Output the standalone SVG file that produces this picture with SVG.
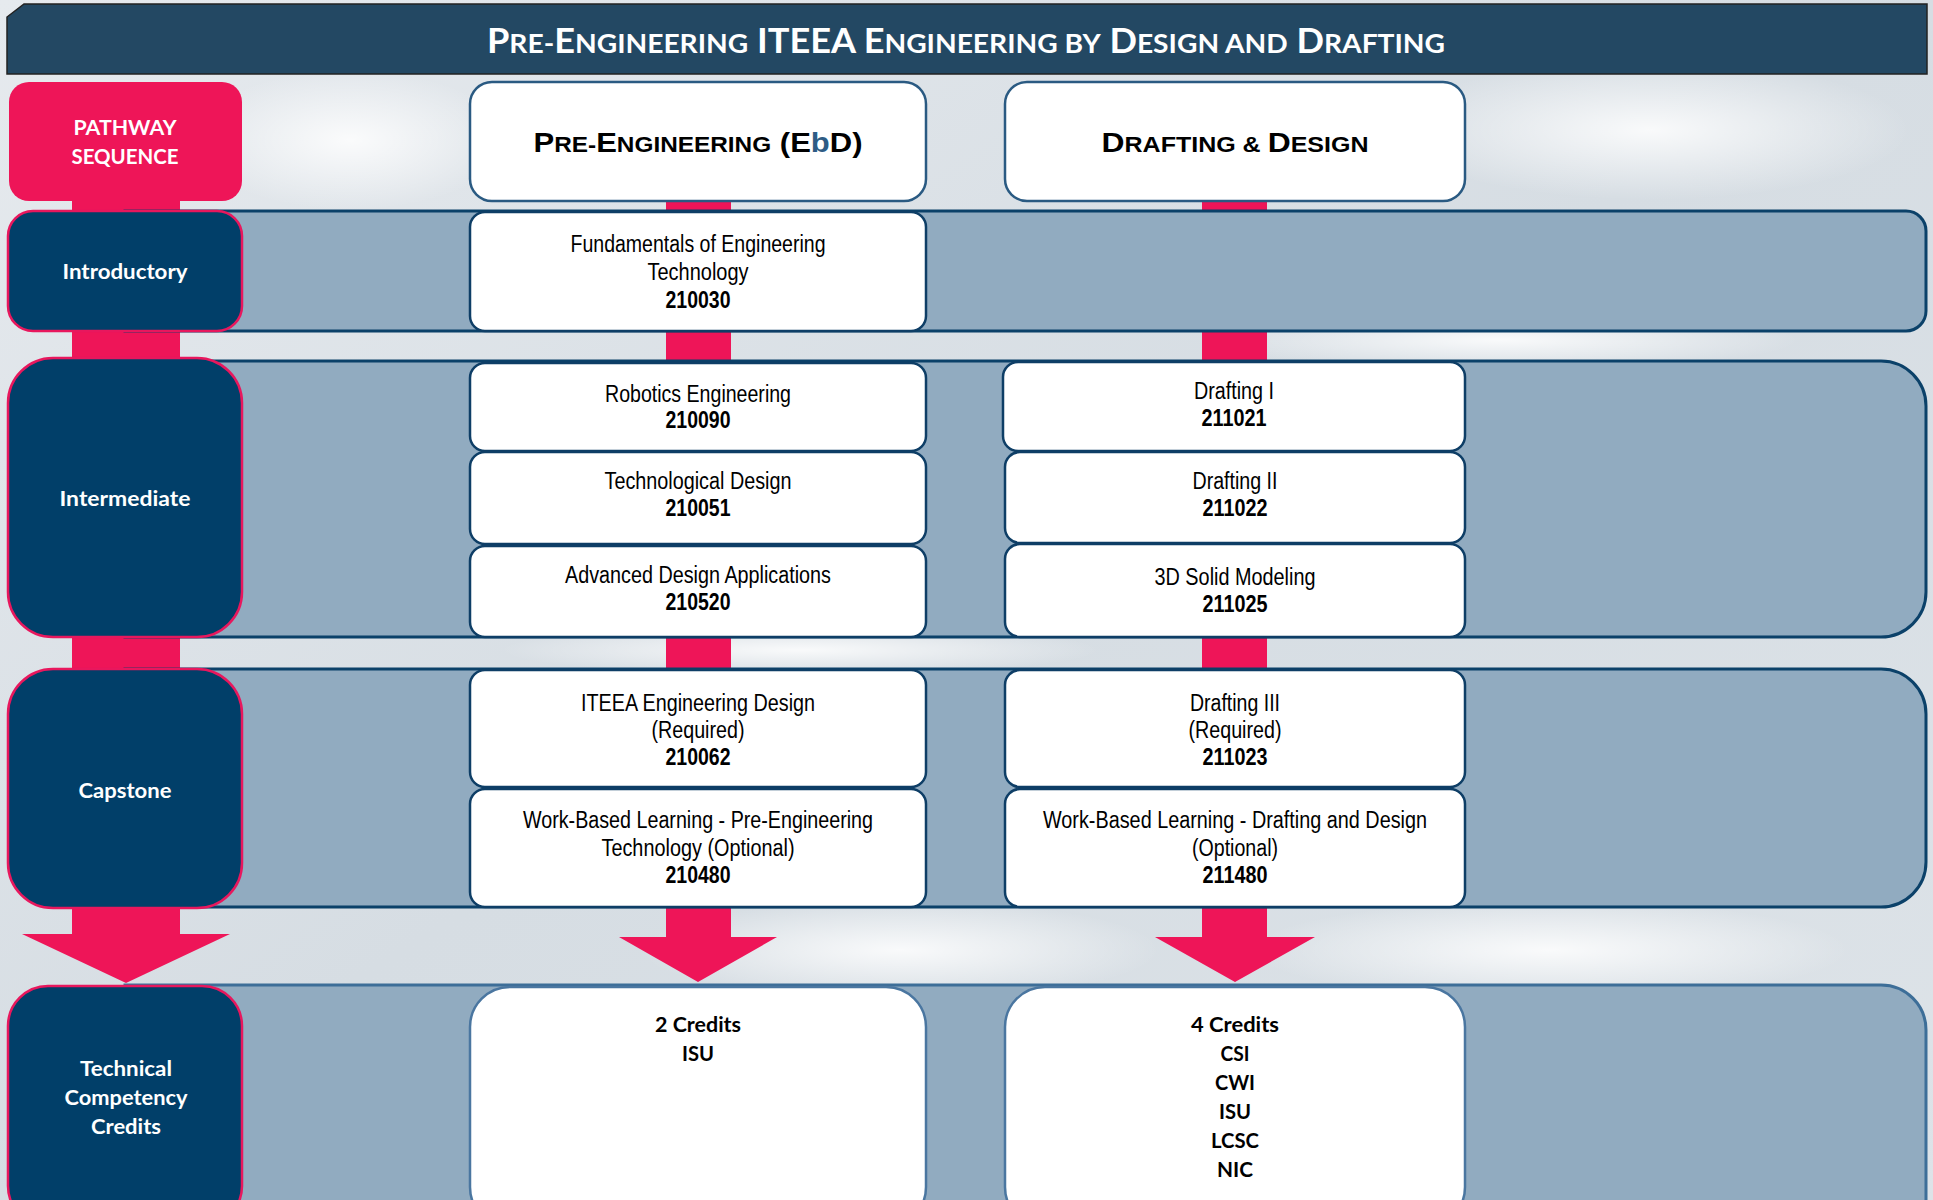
<svg xmlns="http://www.w3.org/2000/svg" width="1933" height="1200" viewBox="0 0 1933 1200">
  <defs>
    <radialGradient id="glow" cx="50%" cy="50%" r="50%">
      <stop offset="0" stop-color="#ffffff" stop-opacity="0.85"/>
      <stop offset="1" stop-color="#ffffff" stop-opacity="0"/>
    </radialGradient>
    <linearGradient id="bg" x1="0" y1="0" x2="1" y2="1">
      <stop offset="0" stop-color="#E6EAEE"/>
      <stop offset="0.5" stop-color="#D6DDE3"/>
      <stop offset="1" stop-color="#DDE3E8"/>
    </linearGradient>
    <style>
      .band { fill: #91ABC0; stroke: #0B4169; stroke-width: 3; }
      .band2 { fill: #91ABC0; stroke: #3D6E98; stroke-width: 3; }
      .lbl { fill: #013F69; stroke: #E8175D; stroke-width: 2.5; }
      .course { fill: #ffffff; stroke: #0E3E66; stroke-width: 2.5; }
      .head { fill: #ffffff; stroke: #2A5A82; stroke-width: 2.5; }
      .cred { fill: #ffffff; stroke: #4A76A0; stroke-width: 2.5; }
      .pink { fill: #EE1558; }
      .lt { font-family: Lato, "Open Sans", sans-serif; font-weight: bold; font-size: 21px; fill: #ffffff; text-anchor: middle; }
      .ct { font-family: "Liberation Sans", Arial, sans-serif; font-size: 23px; fill: #000000; text-anchor: middle; }
      .cn { font-family: "Liberation Sans", Arial, sans-serif; font-size: 23px; font-weight: bold; fill: #000000; text-anchor: middle; }
      .crt { font-family: Lato, "Open Sans", sans-serif; font-weight: bold; font-size: 21px; fill: #000000; text-anchor: middle; }
      .ht { font-family: "Liberation Sans", Arial, sans-serif; font-weight: bold; font-size: 28px; fill: #000000; text-anchor: middle; }
      .tt { font-family: Lato, "Open Sans", sans-serif; font-weight: bold; font-size: 34px; fill: #ffffff; text-anchor: middle; }
    </style>
  </defs>

  <!-- background -->
  <rect x="0" y="0" width="1933" height="1200" fill="url(#bg)"/>
  <ellipse cx="300" cy="760" rx="220" ry="60" fill="url(#glow)"/>
  <ellipse cx="900" cy="950" rx="260" ry="50" fill="url(#glow)"/>
  <ellipse cx="1550" cy="950" rx="300" ry="50" fill="url(#glow)"/>
  <ellipse cx="1500" cy="340" rx="300" ry="30" fill="url(#glow)"/>
  <ellipse cx="800" cy="650" rx="300" ry="25" fill="url(#glow)"/>
  <ellipse cx="1650" cy="130" rx="260" ry="70" fill="url(#glow)"/>
  <ellipse cx="350" cy="140" rx="160" ry="70" fill="url(#glow)"/>

  <!-- title -->
  <g id="title">
    <path d="M24,4 H1927 V74 H7 V17 Z" fill="#234863" stroke="#222222" stroke-width="1.5"/>
    <text class="tt" x="966" y="53" textLength="958" lengthAdjust="spacingAndGlyphs">P<tspan font-size="26.5">RE-</tspan>E<tspan font-size="26.5">NGINEERING</tspan> ITEEA E<tspan font-size="26.5">NGINEERING BY</tspan> D<tspan font-size="26.5">ESIGN AND</tspan> D<tspan font-size="26.5">RAFTING</tspan></text>
  </g>

  <!-- connectors (pink bars and arrows) -->
  <g id="connectors">
    <rect class="pink" x="72" y="195" width="108" height="20"/>
    <rect class="pink" x="72" y="325" width="108" height="38"/>
    <rect class="pink" x="72" y="630" width="108" height="44"/>
    <polygon class="pink" points="72,905 180,905 180,934 230,934 126,983 22,934 72,934"/>

    <rect class="pink" x="666" y="195" width="65" height="20"/>
    <rect class="pink" x="666" y="325" width="65" height="40"/>
    <rect class="pink" x="666" y="630" width="65" height="44"/>
    <polygon class="pink" points="666,905 731,905 731,937 777,937 698,982 619,937 666,937"/>

    <rect class="pink" x="1202" y="195" width="65" height="20"/>
    <rect class="pink" x="1202" y="325" width="65" height="40"/>
    <rect class="pink" x="1202" y="630" width="65" height="44"/>
    <polygon class="pink" points="1202,905 1267,905 1267,937 1315,937 1235,982 1155,937 1202,937"/>
  </g>

  <!-- bands -->
  <g id="bands">
    <path class="band" d="M125,211 H1906 A20,20 0 0 1 1926,231 V311 A20,20 0 0 1 1906,331 H125 Z"/>
    <path class="band" d="M125,361 H1881 A45,45 0 0 1 1926,406 V592 A45,45 0 0 1 1881,637 H125 Z"/>
    <path class="band" d="M125,669 H1881 A45,45 0 0 1 1926,714 V862 A45,45 0 0 1 1881,907 H125 Z"/>
    <path class="band2" d="M125,985 H1881 A45,45 0 0 1 1926,1030 V1230 H125 Z"/>
  </g>

  <!-- left column labels -->
  <g id="pathway-sequence">
    <rect x="9" y="82" width="233" height="119" rx="20" class="pink"/>
    <text class="lt" font-size="20" x="125" y="135" textLength="103" lengthAdjust="spacingAndGlyphs">PATHWAY</text>
    <text class="lt" font-size="20" x="125" y="164.3" textLength="107" lengthAdjust="spacingAndGlyphs">SEQUENCE</text>
  </g>
  <g id="introductory">
    <rect x="8" y="211" width="234" height="120" rx="25" class="lbl"/>
    <text class="lt" x="125" y="279" textLength="125" lengthAdjust="spacingAndGlyphs">Introductory</text>
  </g>
  <g id="intermediate">
    <rect x="8" y="358" width="234" height="279" rx="45" class="lbl"/>
    <text class="lt" x="125" y="506" textLength="131" lengthAdjust="spacingAndGlyphs">Intermediate</text>
  </g>
  <g id="capstone">
    <rect x="8" y="669" width="234" height="239" rx="45" class="lbl"/>
    <text class="lt" x="125" y="798" textLength="93" lengthAdjust="spacingAndGlyphs">Capstone</text>
  </g>
  <g id="technical-competency-credits">
    <rect x="8" y="986" width="234" height="240" rx="40" class="lbl"/>
    <text class="lt" x="126" y="1076" textLength="92" lengthAdjust="spacingAndGlyphs">Technical</text>
    <text class="lt" x="126" y="1105" textLength="123" lengthAdjust="spacingAndGlyphs">Competency</text>
    <text class="lt" x="126" y="1134" textLength="70" lengthAdjust="spacingAndGlyphs">Credits</text>
  </g>

  <!-- column headers -->
  <g id="header-pre-engineering">
    <rect x="470" y="82" width="456" height="119" rx="22" class="head"/>
    <text class="ht" x="698" y="152.3" textLength="329" lengthAdjust="spacingAndGlyphs">P<tspan font-size="22">RE-</tspan>E<tspan font-size="22">NGINEERING</tspan> (E<tspan fill="#2E5C85">b</tspan>D)</text>
  </g>
  <g id="header-drafting-design">
    <rect x="1005" y="82" width="460" height="119" rx="22" class="head"/>
    <text class="ht" x="1235" y="152.3" textLength="267" lengthAdjust="spacingAndGlyphs">D<tspan font-size="22">RAFTING &amp; </tspan>D<tspan font-size="22">ESIGN</tspan></text>
  </g>

  <!-- Pre-Engineering courses -->
  <g id="course-210030">
    <rect x="470" y="212" width="456" height="119" rx="15" class="course"/>
    <text class="ct" x="698" y="252.3" textLength="255" lengthAdjust="spacingAndGlyphs">Fundamentals of Engineering</text>
    <text class="ct" x="698" y="279.5" textLength="101" lengthAdjust="spacingAndGlyphs">Technology</text>
    <text class="cn" x="698" y="307.5" textLength="65" lengthAdjust="spacingAndGlyphs">210030</text>
  </g>
  <g id="course-210090">
    <rect x="470" y="363" width="456" height="88" rx="15" class="course"/>
    <text class="ct" x="698" y="401.7" textLength="186" lengthAdjust="spacingAndGlyphs">Robotics Engineering</text>
    <text class="cn" x="698" y="428" textLength="65" lengthAdjust="spacingAndGlyphs">210090</text>
  </g>
  <g id="course-210051">
    <rect x="470" y="452" width="456" height="92" rx="15" class="course"/>
    <text class="ct" x="698" y="489.3" textLength="187" lengthAdjust="spacingAndGlyphs">Technological Design</text>
    <text class="cn" x="698" y="515.8" textLength="65" lengthAdjust="spacingAndGlyphs">210051</text>
  </g>
  <g id="course-210520">
    <rect x="470" y="546" width="456" height="91" rx="15" class="course"/>
    <text class="ct" x="698" y="582.8" textLength="266" lengthAdjust="spacingAndGlyphs">Advanced Design Applications</text>
    <text class="cn" x="698" y="609.8" textLength="65" lengthAdjust="spacingAndGlyphs">210520</text>
  </g>
  <g id="course-210062">
    <rect x="470" y="670" width="456" height="117" rx="15" class="course"/>
    <text class="ct" x="698" y="711.3" textLength="234" lengthAdjust="spacingAndGlyphs">ITEEA Engineering Design</text>
    <text class="ct" x="698" y="738.3" textLength="93" lengthAdjust="spacingAndGlyphs">(Required)</text>
    <text class="cn" x="698" y="765.3" textLength="65" lengthAdjust="spacingAndGlyphs">210062</text>
  </g>
  <g id="course-210480">
    <rect x="470" y="789" width="456" height="118" rx="15" class="course"/>
    <text class="ct" x="698" y="827.8" textLength="350" lengthAdjust="spacingAndGlyphs">Work-Based Learning - Pre-Engineering</text>
    <text class="ct" x="698" y="856.3" textLength="193" lengthAdjust="spacingAndGlyphs">Technology (Optional)</text>
    <text class="cn" x="698" y="882.8" textLength="65" lengthAdjust="spacingAndGlyphs">210480</text>
  </g>

  <!-- Drafting & Design courses -->
  <g id="course-211021">
    <rect x="1003" y="362" width="462" height="89" rx="15" class="course"/>
    <text class="ct" x="1234" y="399" textLength="80" lengthAdjust="spacingAndGlyphs">Drafting I</text>
    <text class="cn" x="1234" y="426" textLength="65" lengthAdjust="spacingAndGlyphs">211021</text>
  </g>
  <g id="course-211022">
    <rect x="1005" y="452" width="460" height="91" rx="15" class="course"/>
    <text class="ct" x="1235" y="489" textLength="85" lengthAdjust="spacingAndGlyphs">Drafting II</text>
    <text class="cn" x="1235" y="516" textLength="65" lengthAdjust="spacingAndGlyphs">211022</text>
  </g>
  <g id="course-211025">
    <rect x="1005" y="544" width="460" height="93" rx="15" class="course"/>
    <text class="ct" x="1235" y="585" textLength="161" lengthAdjust="spacingAndGlyphs">3D Solid Modeling</text>
    <text class="cn" x="1235" y="612.3" textLength="65" lengthAdjust="spacingAndGlyphs">211025</text>
  </g>
  <g id="course-211023">
    <rect x="1005" y="670" width="460" height="117" rx="15" class="course"/>
    <text class="ct" x="1235" y="711.3" textLength="90" lengthAdjust="spacingAndGlyphs">Drafting III</text>
    <text class="ct" x="1235" y="738.3" textLength="93" lengthAdjust="spacingAndGlyphs">(Required)</text>
    <text class="cn" x="1235" y="765.3" textLength="65" lengthAdjust="spacingAndGlyphs">211023</text>
  </g>
  <g id="course-211480">
    <rect x="1005" y="789" width="460" height="118" rx="15" class="course"/>
    <text class="ct" x="1235" y="827.8" textLength="384" lengthAdjust="spacingAndGlyphs">Work-Based Learning - Drafting and Design</text>
    <text class="ct" x="1235" y="856.3" textLength="86" lengthAdjust="spacingAndGlyphs">(Optional)</text>
    <text class="cn" x="1235" y="882.8" textLength="65" lengthAdjust="spacingAndGlyphs">211480</text>
  </g>

  <!-- credits -->
  <g id="credits-pre-engineering">
    <rect x="470" y="987" width="456" height="240" rx="40" class="cred"/>
    <text class="crt" x="698" y="1031.7" textLength="86" lengthAdjust="spacingAndGlyphs">2 Credits</text>
    <text class="crt" x="698" y="1060.5" textLength="32" lengthAdjust="spacingAndGlyphs">ISU</text>
  </g>
  <g id="credits-drafting-design">
    <rect x="1005" y="987" width="460" height="240" rx="40" class="cred"/>
    <text class="crt" x="1235" y="1031.7" textLength="88" lengthAdjust="spacingAndGlyphs">4 Credits</text>
    <text class="crt" x="1235" y="1060.5" textLength="29" lengthAdjust="spacingAndGlyphs">CSI</text>
    <text class="crt" x="1235" y="1089.5" textLength="40" lengthAdjust="spacingAndGlyphs">CWI</text>
    <text class="crt" x="1235" y="1118.8" textLength="32" lengthAdjust="spacingAndGlyphs">ISU</text>
    <text class="crt" x="1235" y="1147.5" textLength="48" lengthAdjust="spacingAndGlyphs">LCSC</text>
    <text class="crt" x="1235" y="1177" textLength="36" lengthAdjust="spacingAndGlyphs">NIC</text>
  </g>
</svg>
